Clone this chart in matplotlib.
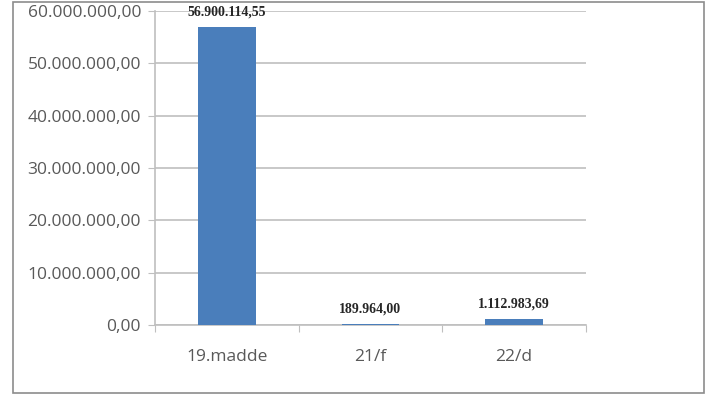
import matplotlib
matplotlib.use("Agg")
import matplotlib.pyplot as plt
import matplotlib.ticker as ticker
from matplotlib.patches import Rectangle

# Amounts per article, with Turkish number formatting (1.234,56)
categories = ["19.madde", "21/f", "22/d"]
amounts = [56900114.55, 189964.00, 1112983.69]
y_ticks = [0, 10000000, 20000000, 30000000, 40000000, 50000000, 60000000]

BAR_COLOR = "#4a7ebb"
GRID_COLOR = "#bfbfbf"
TEXT_COLOR = "#595959"


def tr_number(value):
    # 1234567.5 -> "1.234.567,50"
    s = "{:,.2f}".format(value)
    return s.replace(",", "X").replace(".", ",").replace("X", ".")


fig = plt.figure(figsize=(7.08, 3.94), dpi=100)
fig.patch.set_facecolor("white")

# Outer chart border
fig.patches.append(Rectangle((13 / 708, 1 / 394), 691 / 708, 391 / 394,
                             transform=fig.transFigure, fill=False,
                             edgecolor="#8c8c8c", linewidth=1.2))

ax = fig.add_axes([155 / 708, 69 / 394, 431 / 708, 314 / 394])
x = list(range(len(categories)))
ax.bar(x, amounts, width=0.40, color=BAR_COLOR, zorder=3)

ax.set_xlim(-0.5, len(categories) - 0.5)
ax.set_ylim(0, 60000000)
ax.set_yticks(y_ticks)
ax.yaxis.set_major_formatter(ticker.FuncFormatter(lambda v, p: tr_number(v)))
ax.yaxis.grid(True, color=GRID_COLOR, linewidth=1.2, zorder=0)

# Category ticks sit between the bars, labels under the bars
ax.set_xticks([i - 0.5 for i in range(len(categories) + 1)])
ax.set_xticklabels([])
ax.set_xticks(x, minor=True)
ax.set_xticklabels(categories, minor=True)
ax.tick_params(axis="x", which="major", length=5, color=GRID_COLOR, direction="out")
ax.tick_params(axis="x", which="minor", length=0, pad=17,
               labelsize=12.5, labelcolor=TEXT_COLOR)
ax.tick_params(axis="y", length=5, color=GRID_COLOR, pad=5,
               labelsize=12.5, labelcolor=TEXT_COLOR)

for lbl in ax.get_xticklabels(minor=True) + ax.get_yticklabels():
    lbl.set_fontfamily("Open Sans")

for side in ["top", "right"]:
    ax.spines[side].set_visible(False)
for side in ["left", "bottom"]:
    ax.spines[side].set_color(GRID_COLOR)
    ax.spines[side].set_linewidth(1.2)

# Value labels above each bar
for xi, v in zip(x, amounts):
    ax.annotate(tr_number(v), (xi, v), xytext=(0, 6), textcoords="offset points",
                ha="center", va="bottom", fontsize=10, fontweight="bold",
                family="Liberation Serif", color="#262626", clip_on=False)

plt.savefig("out.png", dpi=100)
plt.close()
